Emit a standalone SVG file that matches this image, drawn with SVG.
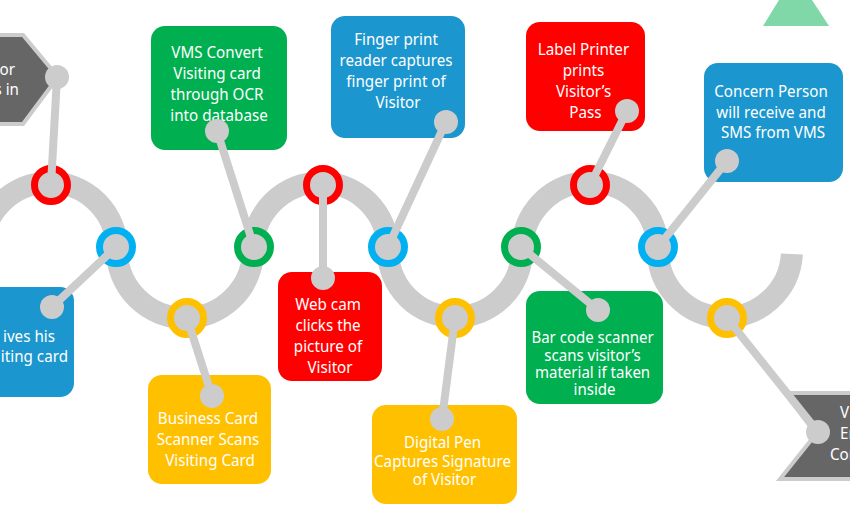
<svg xmlns="http://www.w3.org/2000/svg" width="850" height="509" viewBox="0 0 850 509">
  <style>
    .box { stroke: none; }
    .blue { fill: #1b96ce; }
    .green { fill: #00b050; }
    .red { fill: #ff0000; }
    .yellow { fill: #ffc000; }
    .slate { fill: #666666; stroke: #cccccc; stroke-width: 4; }
    .track { fill: none; stroke: #cccccc; stroke-width: 22; }
    .ring { fill: #cccccc; stroke-width: 7; }
    .ring.r { stroke: #ff0000; }
    .ring.b { stroke: #00b0f0; }
    .ring.y { stroke: #ffc000; }
    .ring.g { stroke: #00b050; }
    .link { stroke: #cccccc; stroke-width: 8; }
    .dot { fill: #cccccc; }
    text { font-family: "Noto Sans", "Open Sans", "DejaVu Sans", sans-serif; font-size: 16px; fill: #ffffff; }
    .c { text-anchor: middle; }
    .e { text-anchor: end; }
  </style>

  <!-- decorative triangle -->
  <polygon points="779,0 812,0 829,26 763,26" fill="#80d8a8"/>

  <!-- step nodes -->
  <g id="visitor-arrives">
    <polygon class="slate" points="-20,35 23,35 58,77 23,124 -20,124"/>
    <text class="e" transform="translate(15,75) scale(0.95,1)">or</text>
    <text class="e" transform="translate(19,95) scale(0.95,1)">s in</text>
  </g>

  <g id="gives-card">
    <rect class="box blue" x="-20" y="287" width="94" height="110" rx="14"/>
    <text class="e" transform="translate(55,342) scale(0.95,1)">ives his</text>
    <text class="e" transform="translate(68,362) scale(0.95,1)">iting card</text>
  </g>

  <g id="card-scanner">
    <rect class="box yellow" x="148" y="375" width="123" height="109" rx="14"/>
    <text class="c" transform="translate(210,0) scale(0.95,1)">
      <tspan x="0" y="424">Business Card</tspan>
      <tspan x="0" y="445">Scanner Scans</tspan>
      <tspan x="0" y="466">Visiting Card</tspan>
    </text>
  </g>

  <g id="ocr">
    <rect class="box green" x="151" y="26" width="136" height="124" rx="14"/>
    <text class="c" transform="translate(219,0) scale(0.95,1)">
      <tspan x="0" y="58">VMS Convert</tspan>
      <tspan x="0" y="79">Visiting card</tspan>
      <tspan x="0" y="100">through OCR</tspan>
      <tspan x="0" y="121">into database</tspan>
    </text>
  </g>

  <g id="web-cam">
    <rect class="box red" x="278" y="272" width="104" height="109" rx="14"/>
    <text class="c" transform="translate(330,0) scale(0.95,1)">
      <tspan x="0" y="310">Web cam</tspan>
      <tspan x="0" y="331">clicks the</tspan>
      <tspan x="0" y="352">picture of</tspan>
      <tspan x="0" y="373">Visitor</tspan>
    </text>
  </g>

  <g id="finger-print">
    <rect class="box blue" x="331" y="16" width="134" height="122" rx="14"/>
    <text class="c" transform="translate(398,0) scale(0.95,1)">
      <tspan x="0" y="45">Finger print</tspan>
      <tspan x="0" y="66">reader captures</tspan>
      <tspan x="0" y="87">finger print of</tspan>
      <tspan x="0" y="108">Visitor</tspan>
    </text>
  </g>

  <g id="digital-pen">
    <rect class="box yellow" x="372" y="405" width="145" height="99" rx="14"/>
    <text class="c" transform="translate(444.5,0) scale(0.95,1)">
      <tspan x="0" y="448">Digital Pen</tspan>
      <tspan x="0" y="467">Captures Signature</tspan>
      <tspan x="0" y="485">of Visitor</tspan>
    </text>
  </g>

  <g id="bar-code">
    <rect class="box green" x="526" y="291" width="137" height="113" rx="14"/>
    <text class="c" style="font-size:15.5px" transform="translate(594.5,0) scale(0.97,1)">
      <tspan x="0" y="343">Bar code scanner</tspan>
      <tspan x="0" y="361">scans visitor’s</tspan>
      <tspan x="0" y="378">material if taken</tspan>
      <tspan x="0" y="395">inside</tspan>
    </text>
  </g>

  <g id="label-printer">
    <rect class="box red" x="526" y="22" width="119" height="109" rx="14"/>
    <text class="c" transform="translate(585.5,0) scale(0.95,1)">
      <tspan x="0" y="55">Label Printer</tspan>
      <tspan x="0" y="76">prints</tspan>
      <tspan x="0" y="97">Visitor’s</tspan>
      <tspan x="0" y="118">Pass</tspan>
    </text>
  </g>

  <g id="sms">
    <rect class="box blue" x="704" y="63" width="139" height="119" rx="14"/>
    <text class="c" transform="translate(773,0) scale(0.95,1)">
      <tspan x="0" y="97">Concern Person</tspan>
      <tspan x="0" y="118">will receive and</tspan>
      <tspan x="0" y="138">SMS from VMS</tspan>
    </text>
  </g>

  <g id="visitor-exits">
    <polygon class="slate" points="785,393 870,393 870,479 780,479 816,434"/>
    <text transform="translate(840,418) scale(0.95,1)">V</text>
    <text transform="translate(840,439) scale(0.95,1)">Er</text>
    <text transform="translate(830,460) scale(0.95,1)">Cor</text>
  </g>

  <!-- connectors: wave track, station rings, leader lines -->
  <g id="connectors">
    <path class="track" d="M -18 250 A 67.5 67.5 0 0 1 117 250 A 68 68 0 0 0 253 250 A 67.5 67.5 0 0 1 388 250 A 67 67 0 0 0 522 250 A 68 68 0 0 1 658 250 A 67 67 0 0 0 791.9 254"/>

    <circle class="ring r" cx="51" cy="185" r="16.5"/>
    <circle class="ring b" cx="116" cy="247" r="16.5"/>
    <circle class="ring y" cx="187" cy="318" r="16.5"/>
    <circle class="ring g" cx="254" cy="247" r="16.5"/>
    <circle class="ring r" cx="323" cy="185" r="16.5"/>
    <circle class="ring b" cx="388" cy="247" r="16.5"/>
    <circle class="ring y" cx="455" cy="318" r="16.5"/>
    <circle class="ring g" cx="521" cy="247" r="16.5"/>
    <circle class="ring r" cx="590" cy="185" r="16.5"/>
    <circle class="ring b" cx="658" cy="247" r="16.5"/>
    <circle class="ring y" cx="727" cy="318" r="16.5"/>

    <line class="link" x1="51" y1="185" x2="57" y2="77"/>
    <line class="link" x1="116" y1="247" x2="52" y2="307"/>
    <line class="link" x1="187" y1="318" x2="212" y2="396"/>
    <line class="link" x1="254" y1="247" x2="217" y2="131"/>
    <line class="link" x1="323" y1="185" x2="323" y2="278"/>
    <line class="link" x1="388" y1="247" x2="446" y2="122"/>
    <line class="link" x1="455" y1="318" x2="442" y2="419"/>
    <line class="link" x1="521" y1="247" x2="598" y2="310"/>
    <line class="link" x1="590" y1="185" x2="627" y2="111"/>
    <line class="link" x1="658" y1="247" x2="727" y2="161"/>
    <line class="link" x1="727" y1="318" x2="818" y2="432"/>

    <circle class="dot" cx="57" cy="77" r="12"/>
    <circle class="dot" cx="52" cy="307" r="12"/>
    <circle class="dot" cx="212" cy="396" r="12"/>
    <circle class="dot" cx="217" cy="131" r="12"/>
    <circle class="dot" cx="323" cy="278" r="12"/>
    <circle class="dot" cx="446" cy="122" r="12"/>
    <circle class="dot" cx="442" cy="419" r="12"/>
    <circle class="dot" cx="598" cy="310" r="12"/>
    <circle class="dot" cx="627" cy="111" r="12"/>
    <circle class="dot" cx="727" cy="161" r="12"/>
    <circle class="dot" cx="818" cy="432" r="12"/>
  </g>
</svg>
